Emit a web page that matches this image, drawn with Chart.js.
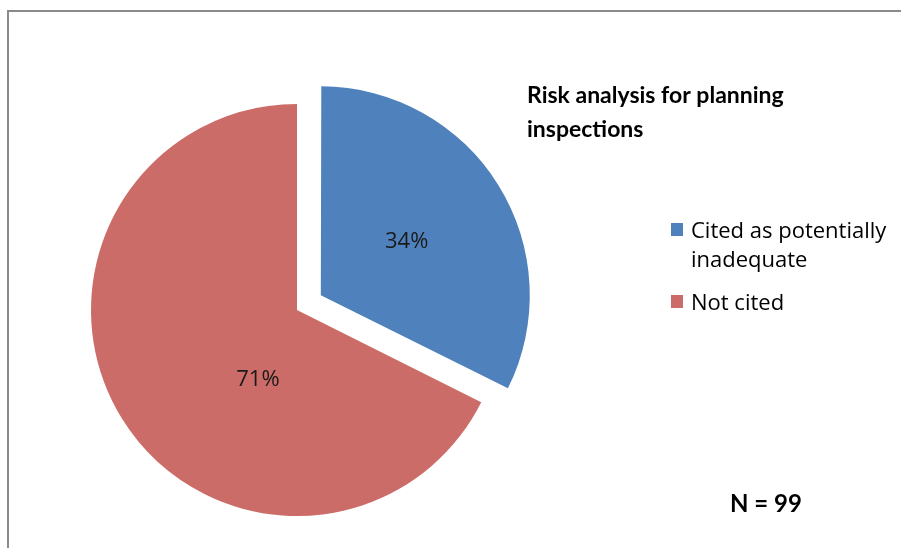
<!DOCTYPE html>
<html>
<head>
<meta charset="utf-8">
<script src="https://cdn.jsdelivr.net/npm/chart.js@4"></script>
<style>
  html, body { margin: 0; padding: 0; background: #fff; overflow: hidden; }
  #wrap { width: 901px; height: 548px; position: relative; overflow: hidden; }
</style>
</head>
<body>
<div id="wrap"><canvas id="pieChart" width="901" height="600"></canvas></div>
<script>
const categories = ["Cited as potentially inadequate", "Not cited"];
const values = [34, 71];
const sliceColors = ["#4F81BD", "#CC6C69"];
const chartTitle = ["Risk analysis for planning", "inspections"];
const sampleNote = "N = 99";

// frame, title, legend and note drawn on the canvas
const decorations = {
  id: "decorations",
  beforeDraw(chart) {
    const c = chart.ctx;
    c.save();
    c.fillStyle = "#fff";
    c.fillRect(0, 0, chart.width, chart.height);
    c.strokeStyle = "#8a8a8a";
    c.lineWidth = 2;
    c.beginPath();
    c.moveTo(8, chart.height);
    c.lineTo(8, 11);
    c.lineTo(chart.width, 11);
    c.stroke();
    c.restore();
  },
  afterDraw(chart) {
    const c = chart.ctx;
    c.save();
    c.fillStyle = "#000";
    c.textBaseline = "alphabetic";

    // title
    c.font = "bold 23px Lato";
    chartTitle.forEach((line, i) => c.fillText(line, 527, 103 + i * 34));

    // legend
    c.font = "22px 'Open Sans'";
    let y = 238;
    categories.forEach((label, i) => {
      c.fillStyle = sliceColors[i];
      c.fillRect(671, y - 15, 12, 13);
      c.fillStyle = "#000";
      const words = label.split(" ");
      const lines = [];
      let cur = "";
      words.forEach(w => {
        const t = cur ? cur + " " + w : w;
        if (c.measureText(t).width > 205 && cur) { lines.push(cur); cur = w; } else cur = t;
      });
      lines.push(cur);
      lines.forEach((ln, j) => c.fillText(ln, 691, y + j * 29));
      y += lines.length * 29 + 14;
    });

    // note
    c.font = "bold 24px Lato";
    c.fillText(sampleNote, 730, 512);
    c.restore();
  }
};

// percentage labels inside the slices
const sliceLabels = {
  id: "sliceLabels",
  afterDatasetsDraw(chart, args, opts) {
    const c = chart.ctx;
    const meta = chart.getDatasetMeta(0);
    const ds = chart.data.datasets[0];
    c.save();
    c.font = "22px 'Open Sans'";
    c.fillStyle = "#1a1a1a";
    c.textAlign = "center";
    c.textBaseline = "middle";
    meta.data.forEach((arc, i) => {
      const p = arc.getProps(["x", "y", "startAngle", "endAngle", "outerRadius"], true);
      const mid = (p.startAngle + p.endAngle) / 2;
      const off = (ds.offset[i] || 0) / 4; // arcs move by offset/4
      const a = p.startAngle + opts.angleFrac[i] * (p.endAngle - p.startAngle);
      const r = p.outerRadius * opts.radiusFrac[i];
      const x = p.x + off * Math.cos(mid) + r * Math.cos(a);
      const y = p.y + off * Math.sin(mid) + r * Math.sin(a);
      c.fillText(ds.data[i] + "%", x, y);
    });
    c.restore();
  }
};

new Chart(document.getElementById("pieChart"), {
  type: "pie",
  data: {
    labels: categories,
    datasets: [{
      data: values,
      backgroundColor: sliceColors,
      borderWidth: 0,
      offset: [112, 0],
      hoverOffset: 0
    }]
  },
  options: {
    responsive: false,
    animation: false,
    events: [],
    layout: { padding: { left: 35, top: 48, right: 342, bottom: 28 } },
    plugins: {
      legend: { display: false },
      tooltip: { enabled: false },
      sliceLabels: { angleFrac: [0.5, 0.38], radiusFrac: [0.49, 0.39] }
    }
  },
  plugins: [decorations, sliceLabels]
});
</script>
</body>
</html>
